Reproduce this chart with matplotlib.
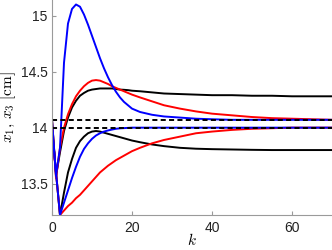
import matplotlib
matplotlib.use('Agg')
import matplotlib.pyplot as plt

plt.rcParams['mathtext.fontset'] = 'cm'
plt.rcParams['font.family'] = ['Liberation Sans', 'DejaVu Sans']

# sample instants
k = [0, 1, 2, 3, 4, 5, 6, 7, 8, 9, 10, 11, 12, 13, 14, 15, 16, 17, 18, 19, 20,
     22, 25, 28, 32, 36, 40, 45, 50, 55, 60, 65, 70]

# x1 trajectories (upper group)
x1_blue = [14.07, 13.57, 13.82, 14.58, 14.93, 15.06, 15.10, 15.08, 15.01, 14.92, 14.82,
           14.72, 14.62, 14.53, 14.45, 14.38, 14.32, 14.27, 14.23, 14.20, 14.17,
           14.14, 14.115, 14.10, 14.09, 14.08, 14.075, 14.07, 14.07, 14.07, 14.07, 14.07, 14.07]
x1_red = [14.07, 13.55, 13.82, 14.00, 14.12, 14.21, 14.28, 14.33, 14.37, 14.40, 14.42,
          14.425, 14.42, 14.405, 14.39, 14.37, 14.355, 14.34, 14.325, 14.31, 14.295,
          14.27, 14.235, 14.20, 14.17, 14.145, 14.125, 14.11, 14.095, 14.085, 14.08, 14.075, 14.07]
x1_black = [14.07, 13.57, 13.78, 13.97, 14.09, 14.18, 14.24, 14.285, 14.31, 14.33, 14.34,
            14.345, 14.35, 14.35, 14.35, 14.35, 14.345, 14.34, 14.338, 14.335, 14.33,
            14.325, 14.315, 14.305, 14.30, 14.295, 14.29, 14.29, 14.285, 14.285, 14.28, 14.28, 14.28]

# x3 trajectories (lower group)
x3_blue = [14.0, 13.6, 13.22, 13.33, 13.44, 13.55, 13.65, 13.74, 13.81, 13.86, 13.90,
           13.93, 13.95, 13.965, 13.975, 13.983, 13.99, 13.994, 13.996, 13.998, 14.0,
           14.0, 14.0, 14.0, 14.0, 14.0, 14.0, 14.0, 14.0, 14.0, 14.0, 14.0, 14.0]
x3_black = [14.0, 13.6, 13.22, 13.42, 13.60, 13.72, 13.82, 13.88, 13.92, 13.95, 13.965,
            13.97, 13.965, 13.955, 13.945, 13.935, 13.925, 13.915, 13.905, 13.895, 13.885,
            13.87, 13.85, 13.835, 13.82, 13.812, 13.808, 13.805, 13.802, 13.80, 13.80, 13.80, 13.80]
x3_red = [14.0, 13.6, 13.22, 13.26, 13.30, 13.33, 13.37, 13.40, 13.44, 13.48, 13.52,
          13.56, 13.60, 13.63, 13.66, 13.685, 13.71, 13.73, 13.75, 13.77, 13.79,
          13.82, 13.86, 13.89, 13.92, 13.95, 13.965, 13.98, 13.99, 13.995, 14.0, 14.0, 14.0]

# setpoints
ref_x1 = 14.07
ref_x3 = 14.0

fig = plt.figure(figsize=(3.32, 2.5), dpi=100)
ax = fig.add_axes([52 / 332, 35 / 250, 1 - 52 / 332, 1 - 35 / 250])

lw = 1.4
ax.plot(k, x1_black, color='k', lw=lw)
ax.plot(k, x3_black, color='k', lw=lw)
ax.plot(k, x1_red, color='r', lw=lw)
ax.plot(k, x3_red, color='r', lw=lw)
ax.plot(k, x1_blue, color='b', lw=lw)
ax.plot(k, x3_blue, color='b', lw=lw)
ax.plot([0, 70], [ref_x1, ref_x1], color='k', lw=lw, ls=(0, (2.6, 1.7)))
ax.plot([0, 70], [ref_x3, ref_x3], color='k', lw=lw, ls=(0, (2.6, 1.7)))

ax.set_xlim(0, 70)
ax.set_ylim(13.22, 15.14)
ax.set_xticks([0, 20, 40, 60])
ax.set_yticks([13.5, 14, 14.5, 15])
ax.set_yticklabels(['13.5', '14', '14.5', '15'])

for s in ['top', 'right']:
    ax.spines[s].set_visible(False)
for s in ['left', 'bottom']:
    ax.spines[s].set_color('#9a9a9a')
    ax.spines[s].set_linewidth(0.8)
ax.tick_params(direction='in', length=3, color='#9a9a9a', labelsize=10,
               labelcolor='#222222')
ax.tick_params(axis='x', pad=4)
ax.tick_params(axis='y', pad=3)

ax.set_xlabel(r'$k$', fontsize=11, labelpad=-2)
ax.set_ylabel(r'$x_1,\, x_3\ [\mathrm{cm}]$', fontsize=11, labelpad=2)

fig.savefig('out.png', dpi=100)
